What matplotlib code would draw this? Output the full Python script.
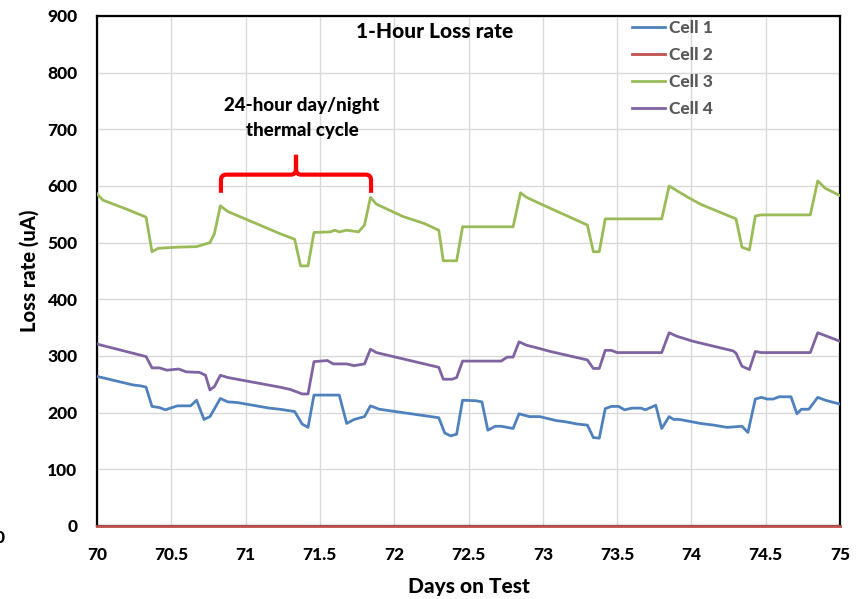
import numpy as np
import matplotlib.pyplot as plt
from matplotlib.path import Path
from matplotlib.patches import PathPatch
from matplotlib.ticker import MultipleLocator, FormatStrFormatter

plt.rcParams['font.family'] = ['Lato', 'DejaVu Sans']
plt.rcParams['font.weight'] = 'bold'

# Cell 1 (blue)
days1 = [70.0, 70.24, 70.30, 70.33, 70.37, 70.42, 70.46, 70.54, 70.63, 70.67, 70.72, 70.76,
         70.83, 70.88, 70.94, 71.16, 71.23, 71.33, 71.38, 71.42, 71.46, 71.63, 71.68, 71.73,
         71.80, 71.84, 71.90, 72.30, 72.34, 72.38, 72.42, 72.46, 72.55, 72.59, 72.63, 72.68,
         72.72, 72.80, 72.84, 72.91, 72.98, 73.09, 73.15, 73.23, 73.30, 73.34, 73.38, 73.42,
         73.46, 73.51, 73.55, 73.60, 73.66, 73.69, 73.76, 73.80, 73.85, 73.88, 73.92, 74.06,
         74.15, 74.24, 74.34, 74.38, 74.43, 74.47, 74.51, 74.55, 74.59, 74.67, 74.71, 74.74,
         74.79, 74.85, 74.90, 75.0]
cell1 = [264, 249, 247, 245, 211, 209, 205, 212, 212, 222, 188, 193,
         225, 219, 218, 208, 206, 202, 180, 174, 231, 231, 181, 188,
         193, 212, 206, 191, 164, 159, 162, 222, 221, 219, 169, 176,
         176, 172, 198, 193, 193, 186, 184, 180, 178, 156, 155, 207,
         211, 211, 205, 208, 208, 205, 213, 172, 193, 188, 188, 181,
         178, 174, 176, 165, 224, 227, 224, 224, 228, 228, 198, 206,
         206, 227, 222, 215]

# Cell 2 (red) - flat at zero
days2 = [70.0, 75.0]
cell2 = [0, 0]

# Cell 3 (green)
days3 = [70.0, 70.04, 70.20, 70.33, 70.37, 70.41, 70.54, 70.67, 70.76, 70.79, 70.83, 70.88,
         71.23, 71.33, 71.37, 71.42, 71.46, 71.57, 71.60, 71.63, 71.68, 71.76, 71.80, 71.84,
         71.88, 72.06, 72.20, 72.30, 72.33, 72.42, 72.46, 72.80, 72.85, 72.89, 72.98, 73.30,
         73.34, 73.38, 73.42, 73.80, 73.85, 73.97, 74.06, 74.17, 74.30, 74.34, 74.39, 74.43,
         74.47, 74.80, 74.85, 74.90, 75.0]
cell3 = [586, 575, 559, 545, 484, 490, 492, 493, 500, 516, 565, 555,
         516, 506, 459, 459, 518, 519, 522, 519, 522, 519, 531, 580,
         568, 546, 534, 522, 468, 468, 528, 528, 588, 580, 569, 531,
         484, 484, 542, 542, 600, 581, 568, 556, 542, 492, 487, 547,
         549, 549, 609, 596, 583]

# Cell 4 (purple)
days4 = [70.0, 70.33, 70.37, 70.42, 70.47, 70.55, 70.60, 70.69, 70.73, 70.76, 70.79, 70.83,
         70.88, 71.23, 71.30, 71.38, 71.42, 71.46, 71.55, 71.59, 71.68, 71.73, 71.80, 71.84,
         71.88, 72.30, 72.33, 72.39, 72.42, 72.46, 72.72, 72.76, 72.80, 72.84, 72.89, 72.98,
         73.05, 73.30, 73.34, 73.38, 73.42, 73.46, 73.50, 73.80, 73.85, 73.90, 74.01, 74.28,
         74.30, 74.34, 74.39, 74.43, 74.47, 74.80, 74.85, 74.92, 75.0]
cell4 = [321, 299, 279, 279, 275, 277, 272, 271, 266, 240, 246, 266,
         262, 245, 241, 233, 233, 290, 292, 286, 286, 283, 286, 312,
         306, 280, 259, 259, 262, 291, 291, 298, 298, 325, 319, 313,
         308, 293, 278, 278, 310, 310, 306, 306, 341, 335, 326, 309,
         305, 282, 276, 308, 306, 306, 341, 334, 326]

# bracket marking one day/night cycle
bracket_start = 70.834
bracket_end = 71.844
bracket_level = 620

fig = plt.figure(figsize=(8.57, 5.99), dpi=100)
ax = fig.add_axes([0.1132, 0.1219, 0.867, 0.8514])

ax.plot(days1, cell1, color='#4F81BD', lw=2.0, label='Cell 1', zorder=3)
ax.plot(days2, cell2, color='#C0504D', lw=2.0, label='Cell 2', zorder=3, clip_on=False)
ax.plot(days3, cell3, color='#9BBB59', lw=2.0, label='Cell 3', zorder=3)
ax.plot(days4, cell4, color='#8064A2', lw=2.0, label='Cell 4', zorder=3)

ax.set_xlim(70, 75)
ax.set_ylim(0, 900)
ax.xaxis.set_major_locator(MultipleLocator(0.5))
ax.yaxis.set_major_locator(MultipleLocator(100))
ax.xaxis.set_major_formatter(FormatStrFormatter('%g'))
ax.grid(True, color='#D9D9D9', lw=1.0)
ax.set_axisbelow(True)
ax.tick_params(length=0, labelsize=12.5)
ax.tick_params(axis='x', pad=15)
ax.tick_params(axis='y', pad=14)
for lbl in ax.get_xticklabels() + ax.get_yticklabels():
    lbl.set_fontweight('black')
for s in ax.spines.values():
    s.set_linewidth(1.6)
    s.set_color('black')

ax.set_xlabel('Days on Test', fontsize=15, fontweight='black', labelpad=10)
ax.set_ylabel('Loss rate (uA)', fontsize=14.5, fontweight='black', labelpad=6)

ax.text(72.27, 872, '1-Hour Loss rate', ha='center', va='center', fontsize=15, fontweight='black')
ax.text(71.38, 720, '24-hour day/night\nthermal cycle', ha='center', va='center',
        fontsize=13.5, fontweight='black', linespacing=1.55)

# red curly bracket
mid = (bracket_start + bracket_end) / 2
rx, ry = 0.035, 10
verts = [(bracket_start, bracket_level - 32), (bracket_start, bracket_level - ry),
         (bracket_start, bracket_level), (bracket_start + rx, bracket_level),
         (mid - rx, bracket_level), (mid, bracket_level), (mid, bracket_level + ry),
         (mid, bracket_level + 35),
         (mid, bracket_level + ry), (mid, bracket_level), (mid + rx, bracket_level),
         (bracket_end - rx, bracket_level), (bracket_end, bracket_level),
         (bracket_end, bracket_level - ry), (bracket_end, bracket_level - 32)]
codes = [Path.MOVETO, Path.LINETO, Path.CURVE3, Path.CURVE3,
         Path.LINETO, Path.CURVE3, Path.CURVE3, Path.LINETO,
         Path.LINETO, Path.CURVE3, Path.CURVE3,
         Path.LINETO, Path.CURVE3, Path.CURVE3, Path.LINETO]
ax.add_patch(PathPatch(Path(verts, codes), fill=False, edgecolor='red', lw=3, zorder=4))

leg = ax.legend(loc='upper left', bbox_to_anchor=(0.699, 1.022), frameon=False,
                prop={'size': 12.5, 'weight': 'black'}, handlelength=1.9,
                handletextpad=0.25, labelspacing=0.62)
for t in leg.get_texts():
    t.set_color('#595959')

# stray label cut off at the left edge in the source image
fig.text(0.0, 0.102, '0', ha='center', va='center', fontsize=12.5, fontweight='black')

fig.savefig('out.png', dpi=100)
